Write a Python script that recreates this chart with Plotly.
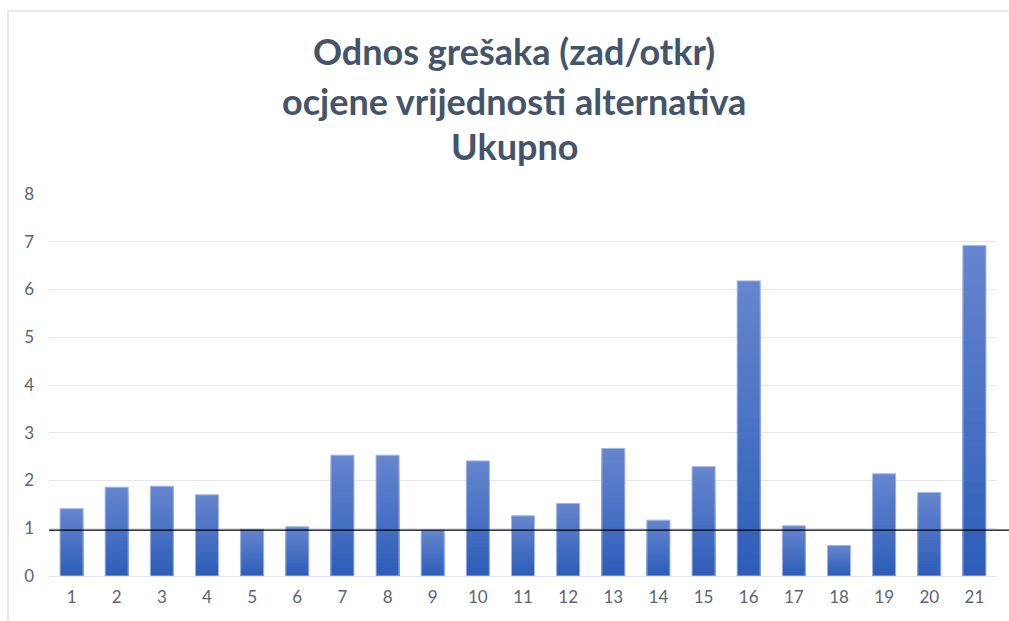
import plotly.graph_objects as go

# Alternative index and error ratio (delayed / detected) per alternative
categories = [str(i) for i in range(1, 22)]
ratios = [1.41, 1.86, 1.88, 1.70, 0.98, 1.03, 2.53, 2.53, 0.96, 2.41, 1.26,
          1.52, 2.67, 1.17, 2.29, 6.18, 1.05, 0.64, 2.14, 1.75, 6.92]
reference_level = 0.96
title_lines = ["Odnos grešaka (zad/otkr)", "ocjene vrijednosti alternativa", "Ukupno"]
y_ticks = [0, 1, 2, 3, 4, 5, 6, 7, 8]

TOP_RGB = (101, 133, 206)
BOTTOM_RGB = (46, 94, 185)
N_BANDS = 28


def mix(a, b, t):
    return "rgb({},{},{})".format(*[round(a[k] + (b[k] - a[k]) * t) for k in range(3)])


fig = go.Figure()

# Vertical gradient per bar: overlaid bars of shrinking height, light at top, dark at bottom
for i in range(N_BANDS):
    frac = (N_BANDS - i) / N_BANDS
    fig.add_trace(go.Bar(
        x=categories,
        y=[v * frac for v in ratios],
        marker=dict(color=mix(TOP_RGB, BOTTOM_RGB, i / (N_BANDS - 1)), line=dict(width=0)),
        hoverinfo="skip",
        showlegend=False,
    ))

# Thin light outline around each bar
fig.add_trace(go.Bar(
    x=categories,
    y=ratios,
    marker=dict(color="rgba(0,0,0,0)", line=dict(color="#a3b7e3", width=1)),
    hovertemplate="%{x}: %{y}<extra></extra>",
    showlegend=False,
))

L, R, T, B = 49, 12, 194, 45
W, H = 1009, 621
pw, ph = W - L - R, H - T - B


def px_x(x):
    return (x - L) / pw


def px_y(y):
    return (H - B - y) / ph


title_font = dict(family="Lato, 'Open Sans', sans-serif", size=36, color="#44546A")
title_y = [51, 101, 146]
annotations = [
    dict(text="<b>%s</b>" % line, x=px_x(514), y=px_y(yy), xref="paper", yref="paper",
         xanchor="center", yanchor="middle", showarrow=False, font=title_font)
    for line, yy in zip(title_lines, title_y)
]

shapes = [
    # reference level line
    dict(type="line", xref="paper", yref="y", x0=0, x1=px_x(1012),
         y0=reference_level, y1=reference_level, line=dict(color="black", width=1.3)),
    # chart frame (left and top edges)
    dict(type="line", xref="paper", yref="paper", x0=px_x(8), x1=px_x(8),
         y0=px_y(11), y1=px_y(640), line=dict(color="#dde1ea", width=1.5)),
    dict(type="line", xref="paper", yref="paper", x0=px_x(8), x1=px_x(1015),
         y0=px_y(11), y1=px_y(11), line=dict(color="#dde1ea", width=1.5)),
]

tick_font = dict(family="Lato, 'Open Sans', sans-serif", size=17, color="#5b6472")

fig.update_layout(
    width=W, height=H,
    margin=dict(l=L, r=R, t=T, b=B, pad=0),
    paper_bgcolor="white", plot_bgcolor="white",
    barmode="overlay", bargap=0.49,
    annotations=annotations,
    shapes=shapes,
    xaxis=dict(type="category", showgrid=False, zeroline=False, showline=False,
               tickfont=tick_font, ticks="", ticklabelstandoff=9, fixedrange=True),
    yaxis=dict(range=[0, 8], tickvals=y_ticks, showgrid=True, gridcolor="#e4e7ee",
               gridwidth=1, zeroline=True, zerolinecolor="#e4e7ee", zerolinewidth=1,
               showline=False, tickfont=tick_font, ticks="", ticklabelstandoff=14,
               fixedrange=True),
)

fig.write_html("out.html")
